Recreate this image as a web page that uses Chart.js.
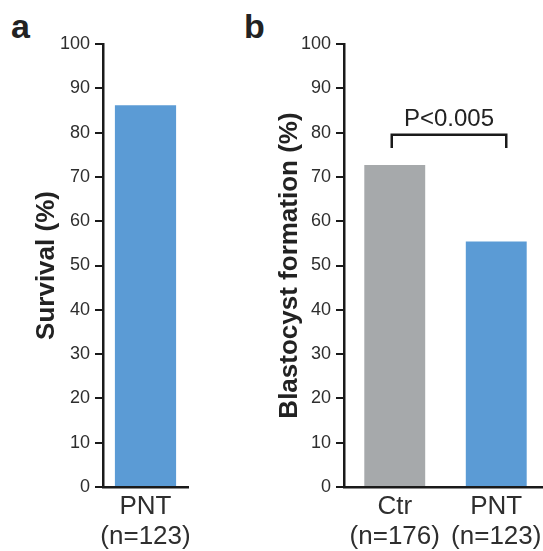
<!DOCTYPE html>
<html>
<head>
<meta charset="utf-8">
<script src="https://cdn.jsdelivr.net/npm/chart.js@4/dist/chart.umd.min.js"></script>
<style>
    html, body { margin: 0; padding: 0; background: #fff; overflow: hidden; width: 543px; height: 551px; }
    .panel { position: absolute; top: 0; }
    .letter {
        position: absolute; top: 9px;
        font: bold 34px "Liberation Sans", Arial, sans-serif; line-height: 1; color: #222;
    }
</style>
</head>
<body>
<div class="letter" style="left: 11px;">a</div>
<div class="letter" style="left: 244px;">b</div>
<canvas id="chart-a" class="panel" style="left: 0;" width="230" height="551"></canvas>
<canvas id="chart-b" class="panel" style="left: 230px;" width="320" height="551"></canvas>
<script>
// values
const survivalLabels = [['PNT', '(n=123)']];
const survivalValues = [86.2];
const blastLabels = [['Ctr', '(n=176)'], ['PNT', '(n=123)']];
const blastValues = [72.7, 55.4];
const yMin = 0;
const yMax = 100;
const yStep = 10;
const pLabel = 'P<0.005';

const FONT = '"Liberation Sans", Arial, sans-serif';
const BLUE = '#5b9bd5';
const GRAY = '#a6a9ab';
const INK = '#1a1a1a';

// shared y axis; width sets where the axis line sits inside the canvas
function yAxis(title, width) {
    return {
        min: yMin,
        max: yMax,
        afterFit: scale => { scale.width = width; },
        ticks: { stepSize: yStep, color: '#2e2e2e', padding: 5, font: { family: FONT, size: 18 } },
        grid: { display: true, drawOnChartArea: false, drawTicks: true, tickLength: 8, lineWidth: 2, color: INK },
        border: { display: true, color: INK, width: 2.5 },
        title: {
            display: true, text: title, color: '#222', padding: 0,
            font: { family: FONT, size: 26, weight: 'bold' }
        }
    };
}

function xAxis() {
    return {
        afterFit: scale => { scale.height = 551 - 487; },
        ticks: { color: '#2e2e2e', padding: -3, font: { family: FONT, size: 26, lineHeight: 1.15 } },
        grid: { display: false },
        border: { display: true, color: INK, width: 2.5 }
    };
}

const baseOptions = {
    responsive: false,
    animation: false,
    plugins: { legend: { display: false }, tooltip: { enabled: false } }
};

new Chart(document.getElementById('chart-a'), {
    type: 'bar',
    data: {
        labels: survivalLabels,
        datasets: [{ data: survivalValues, backgroundColor: BLUE, barPercentage: 0.72, categoryPercentage: 1 }]
    },
    options: {
        ...baseOptions,
        layout: { padding: { left: 31, right: 42, top: 44, bottom: 0 } },
        scales: { x: xAxis(), y: yAxis('Survival (%)', 72) }
    }
});

// significance bracket over the two bars
const bracketPlugin = {
    id: 'bracket',
    afterDatasetsDraw(chart) {
        const { ctx, scales: { x, y } } = chart;
        const x0 = x.getPixelForValue(0) - 3;
        const x1 = x.getPixelForValue(1) + 10;
        const top = y.getPixelForValue(79.5);
        const foot = y.getPixelForValue(76.5);
        ctx.save();
        ctx.strokeStyle = INK;
        ctx.lineWidth = 2.5;
        ctx.beginPath();
        ctx.moveTo(x0, foot);
        ctx.lineTo(x0, top);
        ctx.lineTo(x1, top);
        ctx.lineTo(x1, foot);
        ctx.stroke();
        ctx.fillStyle = '#222';
        ctx.font = '24px ' + FONT;
        ctx.textAlign = 'center';
        ctx.textBaseline = 'middle';
        ctx.fillText(pLabel, (x0 + x1) / 2, y.getPixelForValue(83));
        ctx.restore();
    }
};

new Chart(document.getElementById('chart-b'), {
    type: 'bar',
    data: {
        labels: blastLabels,
        datasets: [{ data: blastValues, backgroundColor: [GRAY, BLUE], barPercentage: 0.6, categoryPercentage: 1 }]
    },
    options: {
        ...baseOptions,
        layout: { padding: { left: 44, right: 3, top: 44, bottom: 0 } },
        scales: { x: xAxis(), y: yAxis('Blastocyst formation (%)', 70) }
    },
    plugins: [bracketPlugin]
});
</script>
</body>
</html>
